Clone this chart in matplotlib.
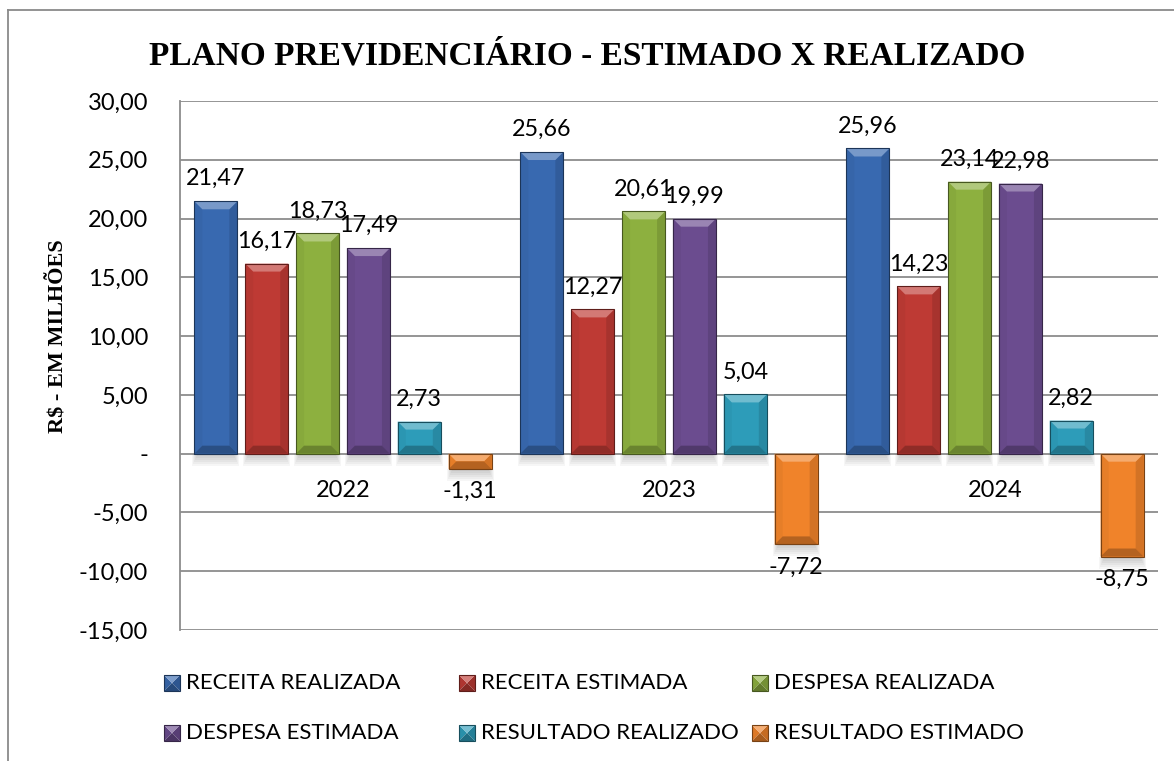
import matplotlib

matplotlib.use("Agg")
import matplotlib.pyplot as plt
import matplotlib.colors as mcolors
import numpy as np
from matplotlib.lines import Line2D
from matplotlib.patches import Polygon, Rectangle

# ---- data -------------------------------------------------------------
years = ["2022", "2023", "2024"]
series = ["RECEITA REALIZADA", "RECEITA ESTIMADA", "DESPESA REALIZADA",
          "DESPESA ESTIMADA", "RESULTADO REALIZADO", "RESULTADO ESTIMADO"]
receita_realizada = [21.47, 25.66, 25.96]
receita_estimada = [16.17, 12.27, 14.23]
despesa_realizada = [18.73, 20.61, 23.14]
despesa_estimada = [17.49, 19.99, 22.98]
resultado_realizado = [2.73, 5.04, 2.82]
resultado_estimado = [-1.31, -7.72, -8.75]
values = [receita_realizada, receita_estimada, despesa_realizada,
          despesa_estimada, resultado_realizado, resultado_estimado]
colors = ["#3869B0", "#BE3A34", "#8DB03F", "#6B4C8F", "#2D9CB9", "#F0832A"]
y_ticks = [30, 25, 20, 15, 10, 5, 0, -5, -10, -15]

W, H = 1174, 761
NUM_FONT = "Lato"
SERIF = "Liberation Serif"


def fmt(v):
    if v == 0:
        return "-"
    return f"{v:.2f}".replace(".", ",")


def shade(c, f):
    r = np.array(mcolors.to_rgb(c))
    if f >= 0:
        return tuple(r + (1 - r) * f)
    return tuple(r * (1 + f))


def to_fig(pts):
    return [(x / W, y / H) for x, y in pts]


def bevel(target, l, b, r, t, color, d, z, sides=(0.32, -0.25, -0.04, -0.12)):
    """Excel-like bevel, l/b/r/t in display pixels."""
    top, bot, left, right = sides
    faces = [
        ([(l, b), (l, t), (l + d, t - d), (l + d, b + d)], shade(color, left)),
        ([(r, b), (r, t), (r - d, t - d), (r - d, b + d)], shade(color, right)),
        ([(l, t), (r, t), (r - d, t - d), (l + d, t - d)], shade(color, top)),
        ([(l, b), (r, b), (r - d, b + d), (l + d, b + d)], shade(color, bot)),
    ]
    for pts, fc in faces:
        target.add_artist(Polygon(to_fig(pts), closed=True, facecolor=fc,
                                  edgecolor="none", transform=fig.transFigure,
                                  zorder=z))
    target.add_artist(Rectangle((l / W, b / H), (r - l) / W, (t - b) / H,
                                facecolor="none",
                                edgecolor=shade(color, -0.5), lw=0.8,
                                transform=fig.transFigure, zorder=z + 0.1))


fig = plt.figure(figsize=(W / 100, H / 100), dpi=100)
ax = fig.add_axes([180 / W, 1 - 630 / H, (1158 - 180) / W, (630 - 101) / H])
ax.set_xlim(-0.5, 2.5)
ax.set_ylim(-15, 30)

x = np.arange(len(years))
step, width = 0.156, 0.132
bar_groups = []
for k, (name, vals, c) in enumerate(zip(series, values, colors)):
    pos = x + (k - 2.5) * step
    bars = ax.bar(pos, vals, width, color=c, zorder=2, label=name)
    bar_groups.append(bars)
    for xp, v in zip(pos, vals):
        ax.annotate(fmt(v), (xp, v), xytext=(0, 12 if v > 0 else -12),
                    textcoords="offset pixels", ha="center",
                    va="bottom" if v > 0 else "top", fontsize=16.8,
                    family=NUM_FONT, color="black", zorder=5)

# bevels + soft shadows on top of the real bars
for bars, c in zip(bar_groups, colors):
    for p in bars:
        bb = p.get_window_extent()
        l, r = bb.x0, bb.x1
        b, t = bb.y0, bb.y1
        for i in range(6):
            g = 2 + i * 2
            ax.add_artist(Rectangle(((l + 3 - i) / W, (b - g) / H),
                                    (r - l - 6 + 2 * i) / W, g / H,
                                    facecolor="black", alpha=0.035,
                                    edgecolor="none",
                                    transform=fig.transFigure, zorder=1.5))
        d = min(8, (t - b) / 2, (r - l) / 4)
        bevel(ax, l, b, r, t, c, d, 3)

for i, yr in enumerate(years):
    ax.annotate(yr, (i, 0), xytext=(0, -37), textcoords="offset pixels",
                ha="center", va="center", fontsize=17, family=NUM_FONT)

ax.set_yticks(y_ticks)
ax.set_yticklabels([fmt(v) for v in y_ticks], fontsize=17, family=NUM_FONT)
ax.set_xticks([])
ax.tick_params(axis="y", length=0, pad=23)
ax.yaxis.grid(True, color="#8c8c8c", linewidth=1.3)
ax.set_axisbelow(True)
for s in ("top", "right", "bottom"):
    ax.spines[s].set_visible(False)
ax.spines["left"].set_color("#8c8c8c")
ax.spines["left"].set_linewidth(1.3)

fig.text(587 / W, 1 - 56 / H, "PLANO PREVIDENCIÁRIO - ESTIMADO X REALIZADO",
         ha="center", va="center", fontsize=24, fontweight="bold", family=SERIF)
fig.text(58 / W, 1 - 336 / H, "R$ - EM MILHÕES", ha="center", va="center",
         rotation=90, fontsize=16, fontweight="bold", family=SERIF)

# outer chart frame
fig.add_artist(Line2D([8 / W, 8 / W], [0, 1 - 10 / H], color="#8a8a8a", lw=1.3))
fig.add_artist(Line2D([8 / W, 1], [1 - 10 / H, 1 - 10 / H], color="#8a8a8a", lw=1.3))

# legend (Excel row-major, fixed columns)
col_x = [164, 459, 752]
row_y = [683, 733]
sq = 16
for k, (name, c) in enumerate(zip(series, colors)):
    cx = col_x[k % 3]
    cy = H - row_y[k // 3]
    bevel(fig, cx, cy - sq / 2, cx + sq, cy + sq / 2, c, sq / 2, 3,
          sides=(0.35, -0.3, -0.08, -0.18))
    fig.text((cx + 22) / W, cy / H, name, ha="left", va="center",
             fontsize=16, family=NUM_FONT)

fig.savefig("out.png", dpi=100)
